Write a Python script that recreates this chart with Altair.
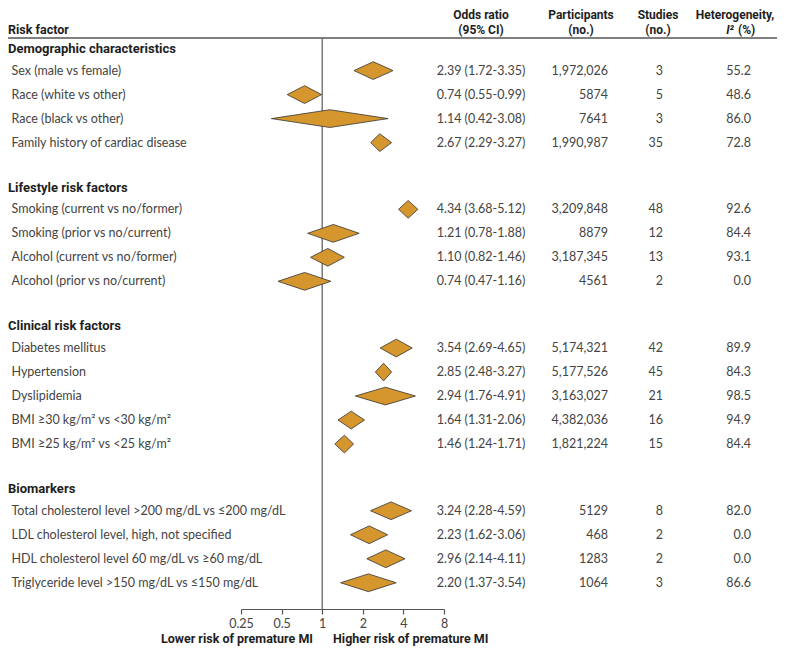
import altair as alt
import pandas as pd

# ---------------- data ----------------
sections = ["Demographic characteristics", "Lifestyle risk factors",
            "Clinical risk factors", "Biomarkers"]
section_of = [0, 0, 0, 0, 1, 1, 1, 1, 2, 2, 2, 2, 2, 3, 3, 3, 3]
labels = [
    "Sex (male vs female)",
    "Race (white vs other)",
    "Race (black vs other)",
    "Family history of cardiac disease",
    "Smoking (current vs no/former)",
    "Smoking (prior vs no/current)",
    "Alcohol (current vs no/former)",
    "Alcohol (prior vs no/current)",
    "Diabetes mellitus",
    "Hypertension",
    "Dyslipidemia",
    "BMI \u226530 kg/m\u00b2 vs <30 kg/m\u00b2",
    "BMI \u226525 kg/m\u00b2 vs <25 kg/m\u00b2",
    "Total cholesterol level >200 mg/dL vs \u2264200 mg/dL",
    "LDL cholesterol level, high, not specified",
    "HDL cholesterol level 60 mg/dL vs \u226560 mg/dL",
    "Triglyceride level >150 mg/dL vs \u2264150 mg/dL",
]
estimates = [2.39, 0.74, 1.14, 2.67, 4.34, 1.21, 1.10, 0.74, 3.54, 2.85, 2.94,
             1.64, 1.46, 3.24, 2.23, 2.96, 2.20]
lowers = [1.72, 0.55, 0.42, 2.29, 3.68, 0.78, 0.82, 0.47, 2.69, 2.48, 1.76,
          1.31, 1.24, 2.28, 1.62, 2.14, 1.37]
uppers = [3.35, 0.99, 3.08, 3.27, 5.12, 1.88, 1.46, 1.16, 4.65, 3.27, 4.91,
          2.06, 1.71, 4.59, 3.06, 4.11, 3.54]
participants = [1972026, 5874, 7641, 1990987, 3209848, 8879, 3187345, 4561,
                5174321, 5177526, 3163027, 4382036, 1821224, 5129, 468, 1283, 1064]
studies = [3, 5, 3, 35, 48, 12, 13, 2, 42, 45, 21, 16, 15, 8, 2, 2, 3]
i2 = [55.2, 48.6, 86.0, 72.8, 92.6, 84.4, 93.1, 0.0, 89.9, 84.3, 98.5,
      94.9, 84.4, 82.0, 0.0, 0.0, 86.6]
axis_ticks = [0.25, 0.5, 1, 2, 4, 8]

# ---------------- layout constants ----------------
W, H = 769, 638
HEADER_TO_ITEM = 0.9
SECTION_GAP = 1.88
HALF_H = 0.37
AXIS_Y = 601
RULE_Y = 30
BODY_FONT = "Lato"
HEAD_FONT = "Roboto"
BODY_COLOR = "#444444"
HEAD_COLOR = "#1e1e1e"
FILL = "#D6962E"

# row positions computed from the structure
item_pos, head_rows = [], []
pos, prev = None, None
for s in section_of:
    if s != prev:
        hp = 0.0 if pos is None else pos + SECTION_GAP
        head_rows.append({"text": sections[s], "pos": hp})
        pos = hp + HEADER_TO_ITEM
        prev = s
    else:
        pos += 1
    item_pos.append(pos)


def fmt_n(n):
    return f"{n:,}" if n >= 10000 else str(n)


items = pd.DataFrame({
    "label": labels,
    "pos": item_pos,
    "or_text": [f"{e:.2f} ({l:.2f}-{u:.2f})" for e, l, u in zip(estimates, lowers, uppers)],
    "n_text": [fmt_n(n) for n in participants],
    "k_text": [str(k) for k in studies],
    "i2_text": [f"{v:.1f}" for v in i2],
})
heads = pd.DataFrame(head_rows)

diam_rows = []
for lab, p, e, l, u in zip(labels, item_pos, estimates, lowers, uppers):
    diam_rows.append({"label": lab, "x": l, "y": p, "y2": p})
    diam_rows.append({"label": lab, "x": e, "y": p - HALF_H, "y2": p + HALF_H})
    diam_rows.append({"label": lab, "x": u, "y": p, "y2": p})
diam = pd.DataFrame(diam_rows)

yscale = alt.Scale(domain=[0, 24], range=[41, 41 + 24 * 24], zero=False, nice=False)
xscale = alt.Scale(type="log", domain=[0.25, 8], range=[233, 436], nice=False)
Y = lambda f: alt.Y(f, type="quantitative", scale=yscale, axis=None)

xaxis = alt.Axis(values=axis_ticks, format="~g", title=None, grid=False,
                 orient="bottom", offset=AXIS_Y - H, tickSize=5,
                 domainColor="#555555", tickColor="#555555", domainWidth=1.2,
                 tickWidth=1.2, labelFont=BODY_FONT, labelFontSize=12.5,
                 labelColor=BODY_COLOR, labelPadding=3, labelFlush=False)

diamonds = alt.Chart(diam).mark_area(
    fill=FILL, stroke="#333333", strokeWidth=0.8, fillOpacity=1, orient="vertical"
).encode(
    x=alt.X("x:Q", scale=xscale, axis=xaxis),
    y=Y("y"), y2="y2", detail="label:N",
)

null_line = alt.Chart(pd.DataFrame({"x": [1]})).mark_rule(
    color="#666666", strokeWidth=1.3
).encode(x=alt.X("x:Q", scale=xscale, axis=xaxis),
         y=alt.value(RULE_Y), y2=alt.value(AXIS_Y))

top_rule = alt.Chart(pd.DataFrame({"v": [0]})).mark_rule(
    color="#555555", strokeWidth=1.3
).encode(x=alt.value(0), x2=alt.value(W), y=alt.value(RULE_Y))


def body_text(field, x, align):
    return alt.Chart(items).mark_text(
        align=align, baseline="middle", font=BODY_FONT, fontSize=12.5,
        color=BODY_COLOR
    ).encode(x=alt.value(x), y=Y("pos"), text=f"{field}:N")


label_txt = body_text("label", 3.5, "left")
or_txt = body_text("or_text", 473, "center")
n_txt = body_text("n_text", 600, "right")
k_txt = body_text("k_text", 655, "right")
i2_txt = body_text("i2_text", 743, "right")

head_txt = alt.Chart(heads).mark_text(
    align="left", baseline="middle", font=HEAD_FONT, fontSize=13,
    fontWeight="bold", color=HEAD_COLOR
).encode(x=alt.value(0), y=Y("pos"), text="text:N")


def hdr(text, x, y, align="center", italic=False, size=12, baseline="middle"):
    return alt.Chart(pd.DataFrame({"t": [text]})).mark_text(
        align=align, baseline=baseline, font=HEAD_FONT, fontSize=size,
        fontWeight="bold", color=HEAD_COLOR,
        fontStyle="italic" if italic else "normal"
    ).encode(x=alt.value(x), y=alt.value(y), text="t:N")


headers = [
    hdr("Risk factor", 0, 21.5, "left", size=12.5),
    hdr("Odds ratio", 473, 7), hdr("(95% CI)", 473, 21.5),
    hdr("Participants", 573, 7), hdr("(no.)", 573, 21.5),
    hdr("Studies", 650, 7), hdr("(no.)", 650, 21.5),
    hdr("Heterogeneity,", 727, 7),
    hdr("I\u00b2", 726, 21.5, "right", italic=True), hdr("(%)", 730, 21.5, "left"),
    hdr("Lower risk of premature MI", 305, 635, "right", size=12.5, baseline="alphabetic"),
    hdr("Higher risk of premature MI", 325, 635, "left", size=12.5, baseline="alphabetic"),
]

chart = alt.layer(
    top_rule, null_line, diamonds, head_txt, label_txt, or_txt, n_txt, k_txt,
    i2_txt, *headers
).properties(
    width=W, height=H,
    autosize=alt.AutoSizeParams(type="none"),
    padding={"left": 0, "right": 0, "top": 0, "bottom": 0},
).configure_view(stroke=None)

chart.save("out.html", embed_options={"renderer": "svg", "actions": False})
